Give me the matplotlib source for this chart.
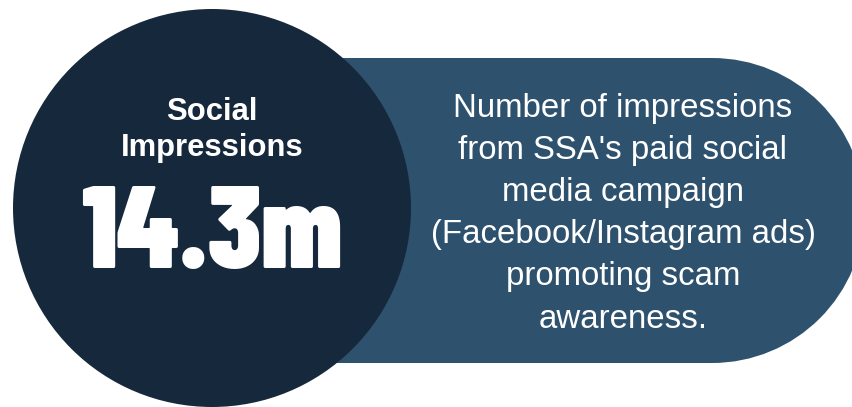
import matplotlib
matplotlib.use("Agg")
import matplotlib.pyplot as plt
from matplotlib.patches import Circle, Rectangle, Wedge

# Content
stat_label = ["Social", "Impressions"]
stat_value = "14.3m"
description = [
    "Number of impressions",
    "from SSA's paid social",
    "media campaign",
    "(Facebook/Instagram ads)",
    "promoting scam",
    "awareness.",
]

W, H = 852, 407
DPI = 100
NAVY = "#16283b"
STEEL = "#2e526e"

fig = plt.figure(figsize=(W / DPI, H / DPI), dpi=DPI)
ax = fig.add_axes([0, 0, 1, 1])
ax.set_xlim(0, W)
ax.set_ylim(H, 0)
ax.axis("off")

def pt(px):
    return px * 72 / DPI

# Description panel: square left end (hidden under the circle), round right cap
top, bottom = 58, 363
radius = (bottom - top) / 2
cy = (top + bottom) / 2
left, cap_x = 330, 712
ax.add_patch(Rectangle((left, top), cap_x - left, bottom - top,
                       facecolor=STEEL, edgecolor="none", zorder=1))
ax.add_patch(Wedge((cap_x, cy), radius, -90, 90, facecolor=STEEL,
                   edgecolor="none", zorder=1))

# Circle with the headline number
ax.add_patch(Circle((212, 208), 199, facecolor=NAVY, edgecolor="none", zorder=2))

ax.text(212, 112, stat_label[0], ha="center", va="center", color="white",
        fontsize=pt(31), fontweight="bold", family="Liberation Sans", zorder=3)
ax.text(212, 148, stat_label[1], ha="center", va="center", color="white",
        fontsize=pt(31), fontweight="bold", family="Liberation Sans", zorder=3)
ax.text(212, 268, stat_value, ha="center", va="baseline", color="white",
        fontsize=84.5, fontweight=900, family="Barlow Condensed", zorder=3)

for i, line in enumerate(description):
    ax.text(623, 109 + i * 42, line, ha="center", va="center", color="white",
            fontsize=pt(33), family="Liberation Sans", zorder=3)

fig.savefig("out.png", dpi=DPI, facecolor="white")
